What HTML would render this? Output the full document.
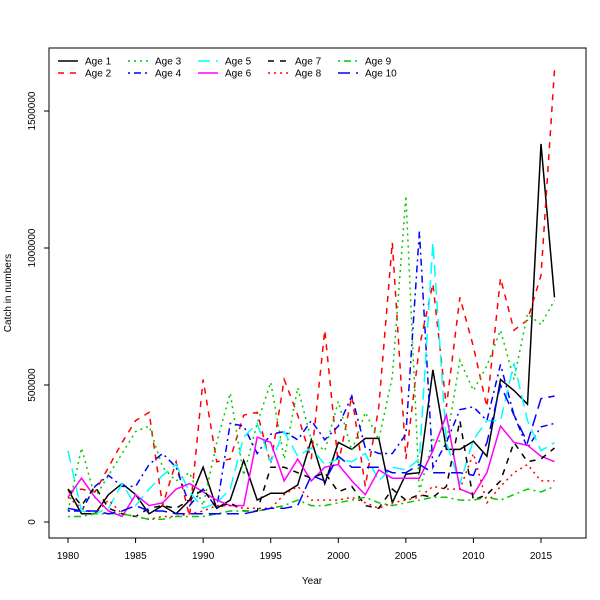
<!DOCTYPE html>
<html><head><meta charset="utf-8"><style>
html,body{margin:0;padding:0;background:#fff}
svg{display:block;font-family:"Liberation Sans","DejaVu Sans",sans-serif}
</style></head><body>
<svg id="chart" width="600" height="600" viewBox="0 0 600 600">
<rect x="49" y="48" width="537" height="490" fill="none" stroke="#000" stroke-width="1"/>
<g id="axes"></g><g id="series"></g><g id="legend"></g>
<text x="312" y="584" font-size="10" text-anchor="middle">Year</text>
<text transform="translate(11,293) rotate(-90)" font-size="10" text-anchor="middle">Catch in numbers</text>
</svg>
<script>
const years = [];
for (let y = 1980; y <= 2016; y++) years.push(y);
const xTicks = [1980,1985,1990,1995,2000,2005,2010,2015];
const yTicks = [0,500000,1000000,1500000];
const seriesNames = ["Age 1","Age 2","Age 3","Age 4","Age 5","Age 6","Age 7","Age 8","Age 9","Age 10"];
const age1 = [120,30,30,100,140,100,30,60,30,80,200,50,80,225,80,105,105,135,300,140,290,265,305,305,70,175,180,555,265,265,295,240,520,480,430,1380,820];
const age2 = [110,120,110,200,290,370,400,60,220,20,520,220,230,390,400,210,520,390,230,700,210,460,130,420,1020,230,640,870,420,820,640,420,890,700,737,900,1650];
const age3 = [40,270,90,170,250,330,350,200,150,180,60,290,470,170,360,510,230,490,300,260,440,260,400,300,530,1190,110,300,290,590,480,570,700,520,760,720,810];
const age4 = [40,40,130,170,130,130,210,250,200,60,120,50,360,350,250,320,330,300,370,300,350,460,270,250,250,320,1060,200,290,410,420,370,575,390,270,347,360];
const age5 = [260,40,30,50,140,60,120,170,210,110,50,70,120,310,360,220,330,240,270,210,230,220,250,150,200,190,230,1020,290,140,300,370,370,580,370,260,290];
const age6 = [90,160,90,40,20,100,60,70,120,140,110,80,60,60,310,290,150,230,150,200,210,150,100,190,160,160,160,260,390,120,100,180,350,290,280,240,220];
const age7 = [120,60,130,50,30,20,50,60,50,80,120,50,70,40,40,200,200,180,160,180,110,130,60,50,120,80,100,90,130,370,80,100,150,290,220,230,270];
const age8 = [90,50,30,80,30,20,10,20,20,30,40,60,60,50,50,50,100,130,80,80,80,90,70,50,70,80,90,130,120,120,250,70,130,180,210,150,150];
const age9 = [20,20,30,30,30,20,10,10,20,20,20,30,40,40,40,50,60,80,60,60,70,80,90,70,60,70,80,90,90,80,80,90,80,100,120,110,130];
const age10 = [50,40,40,30,40,60,40,40,30,30,30,30,30,30,40,50,50,60,170,150,240,200,200,200,180,180,210,180,180,180,170,290,500,390,290,450,460];
const allSeries = [age1,age2,age3,age4,age5,age6,age7,age8,age9,age10];

const colors = ["#000","#f00","#0c0","#00f","#0ff","#f0f"];
const dashes = ["", "6,6", "2,4", "2,4,7,4", "12,6"];
const NS = "http://www.w3.org/2000/svg";
const xS = v => 68 + (v - 1980) * (541 - 68) / 35;
const yS = v => 522 - v / 500000 * 137;
const axes = document.getElementById("axes");
const sg = document.getElementById("series");
const lg = document.getElementById("legend");
function mk(tag, attrs, parent) {
  const e = document.createElementNS(NS, tag);
  for (const k in attrs) e.setAttribute(k, attrs[k]);
  parent.appendChild(e);
  return e;
}
mk("line",{x1:xS(1980),x2:xS(2015),y1:538,y2:538,stroke:"#000"},axes);
xTicks.forEach(t => {
  const l = mk("line",{x1:xS(t),x2:xS(t),y1:538,y2:543,stroke:"#000"},axes);
  
  
  const tx = mk("text",{x:xS(t),y:559,"font-size":10,"text-anchor":"middle"},axes);
  tx.textContent = t;
  
  
});
mk("line",{x1:49,x2:49,y1:yS(0),y2:yS(1500000),stroke:"#000"},axes);
yTicks.forEach(t => {
  const l = mk("line",{x1:44,x2:49,y1:yS(t),y2:yS(t),stroke:"#000"},axes);
  
  
  const tx = mk("text",{"font-size":10,"text-anchor":"middle",transform:`translate(35,${yS(t)}) rotate(-90)`},axes);
  tx.textContent = t;
  
  
});
allSeries.forEach((s, i) => {
  const pts = s.map((v, j) => xS(years[j]).toFixed(1) + "," + yS(v * 1000).toFixed(1)).join(" ");
  const p = mk("polyline",{points:pts,fill:"none",stroke:colors[i % 6],"stroke-width":1.5,"stroke-dasharray":dashes[i % 5]},sg);
  
  
  const col = Math.floor(i / 2), row = i % 2;
  const lx = 58 + col * 70, ly = 61 + row * 12;
  const ll = mk("line",{x1:lx,x2:lx+20,y1:ly,y2:ly,stroke:colors[i % 6],"stroke-width":1.5,"stroke-dasharray":dashes[i % 5]},lg);
  
  
  const lt = mk("text",{x:lx+27,y:ly+3.5,"font-size":10},lg);
  lt.textContent = seriesNames[i];
  
  
});
</script>
</body></html>
